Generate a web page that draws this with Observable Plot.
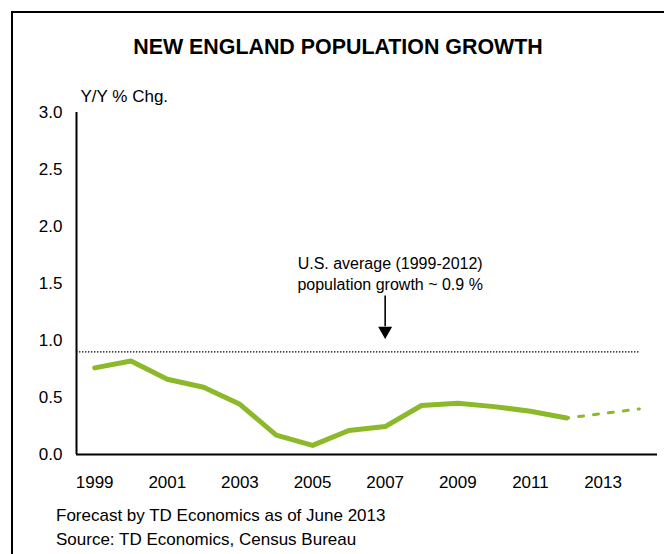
<!DOCTYPE html>
<html>
<head>
<meta charset="utf-8">
<script src="https://cdn.jsdelivr.net/npm/d3@7"></script>
<script src="https://cdn.jsdelivr.net/npm/@observablehq/plot@0.6"></script>
<style>
  html, body { margin: 0; padding: 0; background: #fff; }
  body { font-family: "Liberation Sans", Arial, sans-serif; color: #000; }
  #wrap { position: relative; width: 664px; height: 554px; overflow: hidden; }
  #frame { position: absolute; left: 11px; top: 11px; width: 720px; height: 620px;
           border-left: 2px solid #000; border-top: 2px solid #000; }
  #title { position: absolute; left: 13px; width: 650px; top: 37px; text-align: center;
           font-weight: bold; font-size: 21.4px; line-height: 21px; }
  #chart { position: absolute; left: 0; top: 80px; }
  #foot { position: absolute; left: 56px; top: 504px; font-size: 17px; line-height: 24px; white-space: nowrap; }
</style>
</head>
<body>
<div id="wrap">
  <div id="frame"></div>
  <div id="title">NEW ENGLAND POPULATION GROWTH</div>
  <div id="chart"></div>
  <div id="foot">Forecast by TD Economics as of June 2013<br>Source: TD Economics, Census Bureau</div>
</div>
<script>
// ---- data ----
const years = [1999, 2000, 2001, 2002, 2003, 2004, 2005, 2006, 2007, 2008, 2009, 2010, 2011, 2012];
const growth = [0.76, 0.82, 0.66, 0.59, 0.44, 0.17, 0.08, 0.21, 0.245, 0.43, 0.45, 0.42, 0.38, 0.32];
const forecastYears = [2012, 2013, 2014];
const forecastGrowth = [0.32, 0.36, 0.40];
const xTickYears = [1999, 2001, 2003, 2005, 2007, 2009, 2011, 2013];
const yTickValues = [0, 0.5, 1.0, 1.5, 2.0, 2.5, 3.0];
const usAverage = 0.9;
const yLabel = "Y/Y % Chg.";
const noteLines = ["U.S. average (1999-2012)", "population growth ~ 0.9 %"];
const noteYear = 2007;

// ---- tables built from the arrays ----
const actual = years.map((y, i) => ({year: y, value: growth[i]}));
const forecast = forecastYears.map((y, i) => ({year: y, value: forecastGrowth[i]}));
const note = [{year: noteYear, value: 1.593, text: noteLines.join("\n")}];
const arrowShaft = [{year: noteYear, y1: 1.39, y2: 1.12}];
const arrowHead = [{year: noteYear, value: 1.085}];

const green = "#8cb92a";
const font = "'Liberation Sans', Arial, sans-serif";

const chart = Plot.plot({
  width: 664,
  height: 420,
  marginLeft: 76,
  marginRight: 7,
  marginTop: 32,
  marginBottom: 46,
  style: {fontFamily: font, fontSize: "17px", color: "#000", background: "transparent", overflow: "visible"},
  x: {domain: [1998.5, 2014.5]},
  y: {domain: [0, 3]},
  marks: [
    Plot.axisY({ticks: yTickValues, tickSize: 0, tickPadding: 14, tickFormat: d3.format(".1f"), label: null, fontSize: 17}),
    Plot.axisX({ticks: xTickYears, tickSize: 0, tickPadding: 21, tickFormat: d => String(d), label: null, fontSize: 17}),
    Plot.ruleY([usAverage], {x1: 1998.5, x2: 2014, stroke: "#000", strokeWidth: 1.4, strokeDasharray: "1.4,1.6"}),
    Plot.line(actual, {x: "year", y: "value", stroke: green, strokeWidth: 5, strokeLinejoin: "round"}),
    Plot.line(forecast, {x: "year", y: "value", stroke: green, strokeWidth: 3, strokeDasharray: "5,10", strokeDashoffset: 3}),
    Plot.ruleY([0], {stroke: "#000", strokeWidth: 2}),
    Plot.ruleX([1998.5], {y1: 0, y2: 3, stroke: "#000", strokeWidth: 2}),
    Plot.text(note, {x: "year", y: "value", text: "text", dx: 5, fontSize: 16, lineHeight: 1.3125, fill: "#000"}),
    Plot.ruleX(arrowShaft, {x: "year", y1: "y1", y2: "y2", stroke: "#000", strokeWidth: 1.6}),
    Plot.dot(arrowHead, {x: "year", y: "value", symbol: "triangle", r: 5.2, rotate: 180, fill: "#000", stroke: "none"}),
    Plot.text([yLabel], {frameAnchor: "top-left", text: d => d, dx: 4, dy: -16, textAnchor: "start", lineAnchor: "middle", fontSize: 17, fill: "#000"})
  ]
});
document.getElementById("chart").appendChild(chart);
</script>
</body>
</html>
